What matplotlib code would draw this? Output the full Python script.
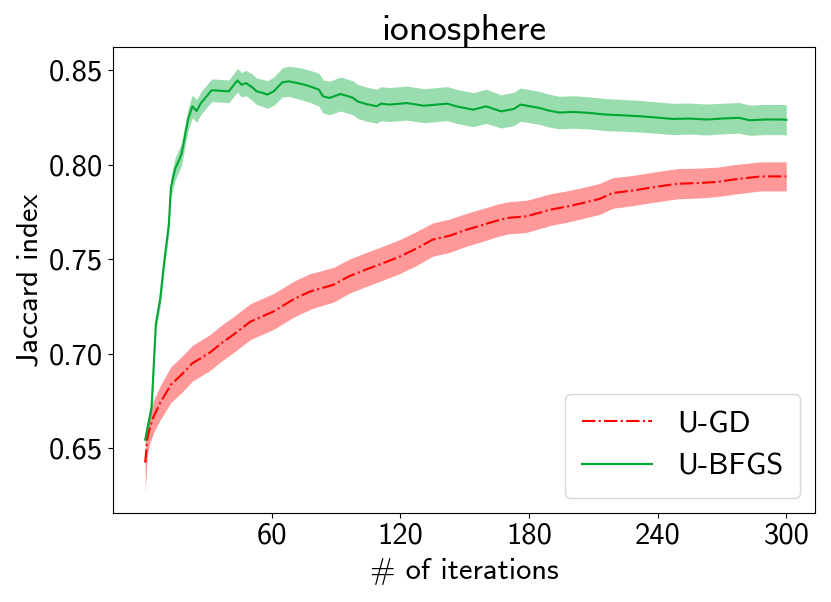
import numpy as np
import matplotlib
matplotlib.use("Agg")
import matplotlib.pyplot as plt

plt.rcParams.update({
    "font.family": ["cmss10", "DejaVu Sans"],
    "axes.unicode_minus": False,
    "font.size": 22,
})

# U-GD (red, dash-dot): mean and spread
gd_iter = [1, 2, 3, 5, 8, 13, 18, 23, 31, 37, 42, 50, 56, 61, 66, 70, 73, 78, 81, 89,
           96, 104, 112, 120, 128, 135, 143, 151, 159, 165, 170, 179, 190, 198, 205, 213,
           219, 229, 236, 249, 260, 268, 275, 288, 300]
gd_mean = [0.6424, 0.655, 0.660, 0.667, 0.674, 0.6837, 0.689, 0.695, 0.7005, 0.706,
           0.710, 0.717, 0.720, 0.7225, 0.726, 0.7287, 0.7304, 0.733, 0.734, 0.7366,
           0.741, 0.7446, 0.748, 0.7516, 0.756, 0.7604, 0.7625, 0.7657, 0.7684, 0.7705,
           0.7719, 0.7728, 0.7763, 0.778, 0.7798, 0.782, 0.7851, 0.7865, 0.7878, 0.790,
           0.7904, 0.791, 0.7922, 0.7939, 0.7939]
gd_std = [0.016, 0.009, 0.008, 0.0085, 0.009, 0.0095, 0.0095, 0.0095, 0.0095, 0.0095,
          0.0095, 0.0095, 0.0095, 0.0095, 0.0095, 0.0095, 0.0095, 0.0095, 0.0093, 0.0092,
          0.009, 0.009, 0.009, 0.009, 0.009, 0.0088, 0.0088, 0.0087, 0.0087, 0.0086,
          0.0085, 0.0085, 0.0084, 0.0083, 0.0082, 0.0082, 0.0081, 0.008, 0.008, 0.008,
          0.0079, 0.0078, 0.0078, 0.0077, 0.0077]

# U-BFGS (green, solid)
bfgs_iter = [1, 3, 4, 6, 8, 10, 12, 13, 15, 17, 18, 20, 21, 23, 25, 27, 29, 32, 36, 40,
             44, 46, 48, 51, 53, 56, 58, 61, 65, 68, 71, 74, 78, 82, 84, 87, 92, 96, 98,
             100, 104, 109, 111, 115, 123, 131, 137, 142, 146, 154, 160, 167, 173, 176,
             185, 189, 194, 201, 208, 216, 224, 232, 240, 247, 255, 263, 270, 278, 283,
             290, 298, 300]
bfgs_mean = [0.6546, 0.666, 0.672, 0.716, 0.729, 0.750, 0.768, 0.788, 0.798, 0.803,
             0.806, 0.818, 0.824, 0.831, 0.8285, 0.8327, 0.8354, 0.8395, 0.8392, 0.8389,
             0.8447, 0.8424, 0.8433, 0.841, 0.8389, 0.838, 0.8372, 0.839, 0.8437, 0.8442,
             0.8435, 0.8428, 0.8415, 0.8398, 0.8362, 0.8354, 0.8375, 0.8362, 0.8354,
             0.8336, 0.8322, 0.831, 0.8324, 0.8319, 0.8327, 0.8313, 0.8319, 0.8324, 0.831,
             0.8292, 0.831, 0.8283, 0.8296, 0.8319, 0.8301, 0.8288, 0.8277, 0.828, 0.8275,
             0.8266, 0.8262, 0.8257, 0.825, 0.8243, 0.8245, 0.824, 0.8245, 0.8249, 0.8236,
             0.824, 0.824, 0.8238]
bfgs_std = [0.003, 0.0035, 0.004, 0.004, 0.004, 0.0045, 0.005, 0.0055, 0.006, 0.006,
            0.006, 0.006, 0.006, 0.006, 0.006, 0.006, 0.006, 0.006, 0.006, 0.006,
            0.0062, 0.0065, 0.0067, 0.007, 0.007, 0.0072, 0.0073, 0.0075, 0.0077, 0.008,
            0.0082, 0.0084, 0.0085, 0.0087, 0.0088, 0.0089, 0.009, 0.009, 0.009,
            0.009, 0.009, 0.009, 0.009, 0.009, 0.009, 0.009, 0.009, 0.009, 0.009,
            0.009, 0.009, 0.0088, 0.0088, 0.0088, 0.0087, 0.0087, 0.0086, 0.0086, 0.0085,
            0.0085, 0.0084, 0.0084, 0.0083, 0.0083, 0.0082, 0.0082, 0.0081, 0.0081, 0.008,
            0.008, 0.008, 0.008]

RED = "#ff0000"
GREEN = "#00a833"

fig, ax = plt.subplots(figsize=(8.31, 6.02), dpi=100)
fig.subplots_adjust(left=0.136, right=0.981, top=0.922, bottom=0.148)

for it, m, s, c, ls, lab in [(gd_iter, gd_mean, gd_std, RED, "-.", "U-GD"),
                            (bfgs_iter, bfgs_mean, bfgs_std, GREEN, "-", "U-BFGS")]:
    it = np.asarray(it); m = np.asarray(m); s = np.asarray(s)
    ax.plot(it, m, ls, color=c, lw=1.5, label=lab)
    ax.fill_between(it, m - s, m + s, color=c, alpha=0.4, lw=0)

ax.set_xticks([60, 120, 180, 240, 300])
ax.set_yticks([0.65, 0.70, 0.75, 0.80, 0.85])
ax.set_xlim(-14, 313.5)
ax.set_ylim(0.6158, 0.8624)
ax.tick_params(labelsize=22)
ax.set_xlabel("# of iterations", fontsize=22, labelpad=6)
ax.set_ylabel("Jaccard index", fontsize=22)
ax.set_title("ionosphere", fontsize=27, pad=5)
ax.legend(loc="lower right", fontsize=22, handlelength=2.3, borderpad=0.55)

fig.savefig("out.png")
